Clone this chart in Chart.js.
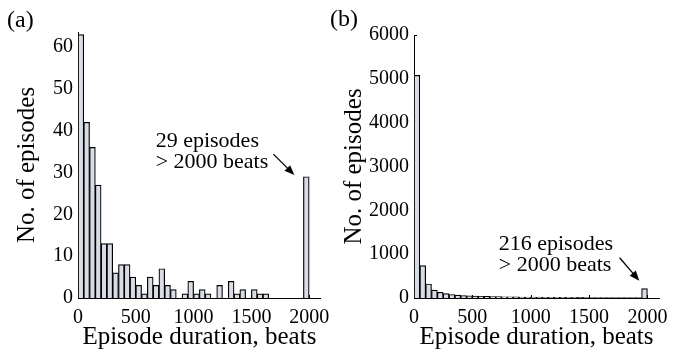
<!DOCTYPE html>
<html>
<head>
<meta charset="utf-8">
<script src="https://cdn.jsdelivr.net/npm/chart.js@4"></script>
<style>
  html, body { margin: 0; padding: 0; background: #fff; }
  #wrap { position: relative; width: 676px; height: 355px; }
  .panel { position: absolute; top: 0; height: 355px; }
</style>
</head>
<body>
<div id="wrap">
  <div class="panel" style="left:0;width:338px"><canvas id="histA" width="338" height="355"></canvas></div>
  <div class="panel" style="left:320px;width:356px"><canvas id="histB" width="356" height="355"></canvas></div>
</div>
<script>
// 50-beat bins, last bin collects everything above 2000 beats
var binCenters = Array.from({length: 40}, (_, i) => 25 + i * 50);
var countsA = [63, 42, 36, 27, 13, 13, 6, 8, 8, 5,
               3, 1, 5, 3, 7, 3, 2, 0, 1, 4,
               1, 2, 1, 0, 3, 0, 4, 1, 2, 0,
               2, 1, 1, 0, 0, 0, 0, 0, 0, 29];
var countsB = [5080, 740, 320, 180, 130, 100, 80, 68, 58, 50,
               45, 40, 36, 33, 30, 28, 26, 24, 22, 21,
               20, 19, 18, 17, 16, 15, 14, 14, 13, 12,
               12, 11, 11, 10, 10, 9, 9, 8, 8, 216];
var xTicks = [0, 500, 1000, 1500, 2000];
var yTicksA = [0, 10, 20, 30, 40, 50, 60];
var yTicksB = [0, 1000, 2000, 3000, 4000, 5000, 6000];

var SERIF = "'Liberation Serif', 'Times New Roman', serif";
Chart.defaults.font.family = SERIF;
Chart.defaults.color = '#000';

// MATLAB-style short tick marks pointing into the plot
var inwardTicks = {
  id: 'inwardTicks',
  beforeDatasetsDraw(chart) {
    var ctx = chart.ctx, area = chart.chartArea, x = chart.scales.x, y = chart.scales.y;
    ctx.save();
    ctx.strokeStyle = '#000';
    ctx.lineWidth = 1;
    ctx.beginPath();
    x.ticks.forEach(function (t) {
      var px = Math.round(x.getPixelForValue(t.value)) + 0.5;
      ctx.moveTo(px, area.bottom);
      ctx.lineTo(px, area.bottom - 3);
    });
    y.ticks.forEach(function (t) {
      var py = Math.round(y.getPixelForValue(t.value)) + 0.5;
      ctx.moveTo(area.left, py);
      ctx.lineTo(area.left + 3, py);
    });
    ctx.stroke();
    ctx.restore();
  }
};

// panel letter, note text and arrow pointing at the overflow bin
var notes = {
  id: 'notes',
  afterDatasetsDraw(chart, args, opts) {
    var ctx = chart.ctx, x = chart.scales.x, y = chart.scales.y;
    ctx.save();
    ctx.fillStyle = '#000';
    ctx.font = '24px ' + SERIF;
    ctx.textBaseline = 'alphabetic';
    ctx.fillText(opts.panel, opts.panelAt[0], opts.panelAt[1]);

    ctx.font = '22px ' + SERIF;
    var tx = x.getPixelForValue(opts.textAt[0]);
    opts.lines.forEach(function (line, i) {
      ctx.fillText(line, tx, y.getPixelForValue(opts.textAt[1]) + i * 21);
    });

    var x1 = x.getPixelForValue(opts.arrow[0]), y1 = y.getPixelForValue(opts.arrow[1]);
    var x2 = x.getPixelForValue(opts.arrow[2]), y2 = y.getPixelForValue(opts.arrow[3]);
    var ang = Math.atan2(y2 - y1, x2 - x1);
    var len = 10, half = 4;
    ctx.strokeStyle = '#000';
    ctx.lineWidth = 1.3;
    ctx.beginPath();
    ctx.moveTo(x1, y1);
    ctx.lineTo(x2 - Math.cos(ang) * len * 0.8, y2 - Math.sin(ang) * len * 0.8);
    ctx.stroke();
    ctx.beginPath();
    ctx.moveTo(x2, y2);
    ctx.lineTo(x2 - Math.cos(ang) * len - Math.sin(ang) * half, y2 - Math.sin(ang) * len + Math.cos(ang) * half);
    ctx.lineTo(x2 - Math.cos(ang) * len + Math.sin(ang) * half, y2 - Math.sin(ang) * len - Math.cos(ang) * half);
    ctx.closePath();
    ctx.fill();
    ctx.restore();
  }
};

function plain(v) { return String(v); }

function makeHist(canvasId, counts, yMax, yTicks, yAxisWidth, titlePad, pad, note) {
  var canvas = document.getElementById(canvasId);
  if (!canvas) return;
  return new Chart(canvas.getContext('2d'), {
    type: 'bar',
    data: {
      datasets: [{
        data: binCenters.map(function (c, i) { return {x: c, y: counts[i]}; }),
        backgroundColor: '#d7dce5',
        borderColor: '#000',
        borderWidth: 1.2,
        barPercentage: 1,
        categoryPercentage: 1
      }]
    },
    options: {
      responsive: false,
      animation: false,
      layout: { padding: pad },
      plugins: {
        legend: { display: false },
        tooltip: { enabled: false },
        notes: note
      },
      scales: {
        x: {
          type: 'linear',
          min: 0,
          max: 2100,
          offset: false,
          afterBuildTicks: function (s) { s.ticks = xTicks.map(function (v) { return {value: v}; }); },
          afterFit: function (s) { s.height = 57; },
          grid: { display: false, drawTicks: false },
          border: { display: true, color: '#000', width: 1 },
          ticks: { font: { size: 20 }, padding: 8, maxRotation: 0, autoSkip: false, callback: plain },
          title: { display: true, text: 'Episode duration, beats', font: { size: 25 }, padding: { bottom: 3 } }
        },
        y: {
          min: 0,
          max: yMax,
          afterBuildTicks: function (s) { s.ticks = yTicks.map(function (v) { return {value: v}; }); },
          afterFit: function (s) { s.width = yAxisWidth; },
          grid: { display: false, drawTicks: false },
          border: { display: true, color: '#000', width: 1 },
          ticks: { font: { size: 20 }, padding: 5, callback: plain },
          title: { display: true, text: 'No. of episodes', font: { size: 25 }, padding: { top: titlePad } }
        }
      }
    },
    plugins: [inwardTicks, notes]
  });
}

document.addEventListener('DOMContentLoaded', function () {
  makeHist('histA', countsA, 63.6, yTicksA, 78, 12, { left: 0, right: 17, top: 32, bottom: 0 }, {
    panel: '(a)', panelAt: [7, 27],
    lines: ['29 episodes', '> 2000 beats'], textAt: [672, 36.2],
    arrow: [1690, 34.4, 1872, 29.4]
  });
  makeHist('histB', countsB, 6000, yTicksB, 94, 19, { left: 0, right: 12, top: 35, bottom: 0 }, {
    panel: '(b)', panelAt: [10, 26],
    lines: ['216 episodes', '> 2000 beats'], textAt: [726, 1084],
    arrow: [1762, 918, 1930, 394]
  });
});
</script>
</body>
</html>
